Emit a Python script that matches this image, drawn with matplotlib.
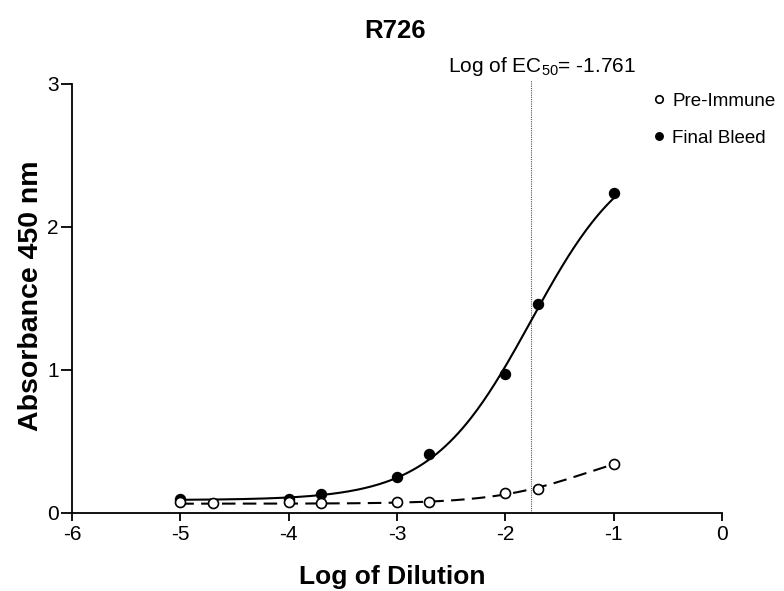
import numpy as np
import matplotlib
matplotlib.use("Agg")
import matplotlib.pyplot as plt

plt.rcParams['font.family'] = ['Liberation Sans', 'DejaVu Sans']
plt.rcParams['axes.unicode_minus'] = False
plt.rcParams['mathtext.fontset'] = 'custom'
plt.rcParams['mathtext.rm'] = 'Liberation Sans'

# Serial dilution readings (log10 of dilution vs A450)
pre_x = [-5.0, -4.7, -4.0, -3.7, -3.0, -2.7, -2.0, -1.7, -1.0]
pre_y = [0.075, 0.07, 0.078, 0.07, 0.074, 0.08, 0.138, 0.168, 0.34]
final_x = [-5.0, -4.0, -3.7, -3.0, -2.7, -2.0, -1.7, -1.0]
final_y = [0.10, 0.10, 0.13, 0.254, 0.41, 0.972, 1.46, 2.236]

# Four-parameter logistic fits: bottom, top, logEC50, hill slope
final_fit = (0.09, 2.60, -1.761, 0.95)
pre_fit = (0.065, 0.494, -1.252, 1.0)
log_ec50 = -1.761

x_ticks = [-6, -5, -4, -3, -2, -1, 0]
y_ticks = [0, 1, 2, 3]


def four_pl(x, bottom, top, logec50, hill):
    return bottom + (top - bottom) / (1.0 + 10 ** ((logec50 - x) * hill))


fig = plt.figure(figsize=(7.84, 5.91), dpi=100)
ax = fig.add_axes([0.0918, 0.132, 0.829, 0.726])

xs = np.linspace(-5, -1, 300)
ax.plot(xs, four_pl(xs, *final_fit), color='black', lw=1.5, zorder=2)
ax.plot(xs, four_pl(xs, *pre_fit), color='black', lw=1.5,
        dashes=(6.5, 3.5), zorder=2)

ax.plot([log_ec50, log_ec50], [0, 3.03], color='#555555', lw=0.8,
        ls=(0, (1, 1)), zorder=1, clip_on=False)
ax.annotate('Log of EC$_{\\mathregular{50}}$= -1.761', xy=(log_ec50, 3.125),
            xytext=(8, 0), textcoords='offset points', ha='center',
            va='center', fontsize=15, annotation_clip=False)

ax.plot(final_x, final_y, 'o', color='black', ms=7.2, zorder=3,
        label='Final Bleed', clip_on=False)
ax.plot(pre_x, pre_y, 'o', mfc='white', mec='black', mew=1.2, ms=7.2,
        zorder=4, label='Pre-Immune', clip_on=False)

ax.set_xlim(-6, 0)
ax.set_ylim(0, 3)
ax.set_xticks(x_ticks)
ax.set_yticks(y_ticks)
ax.tick_params(axis='x', labelsize=15, width=1.3, length=6, direction='out',
               pad=3)
ax.tick_params(axis='y', labelsize=15, width=1.3, length=8, direction='out',
               pad=1.5)
for s in ('top', 'right'):
    ax.spines[s].set_visible(False)
for s in ('left', 'bottom'):
    ax.spines[s].set_linewidth(1.3)

fig.text(0.504, 0.947, 'R726', fontsize=18.5, fontweight='bold',
         ha='center', va='center')
fig.text(0.50, 0.024, 'Log of Dilution', fontsize=19, fontweight='bold',
         ha='center', va='center')
fig.text(0.040, 0.50, 'Absorbance 450 nm', fontsize=20.5, fontweight='bold',
         ha='center', va='center', rotation=90)

handles, labels = ax.get_legend_handles_labels()
fig.legend(handles[::-1], labels[::-1], loc='upper left',
           bbox_to_anchor=(0.829, 0.843), frameon=False, fontsize=13.5,
           handletextpad=0.2, labelspacing=1.05, handlelength=1.0,
           markerscale=0.75, borderaxespad=0, borderpad=0)

fig.savefig('out.png', dpi=100)
